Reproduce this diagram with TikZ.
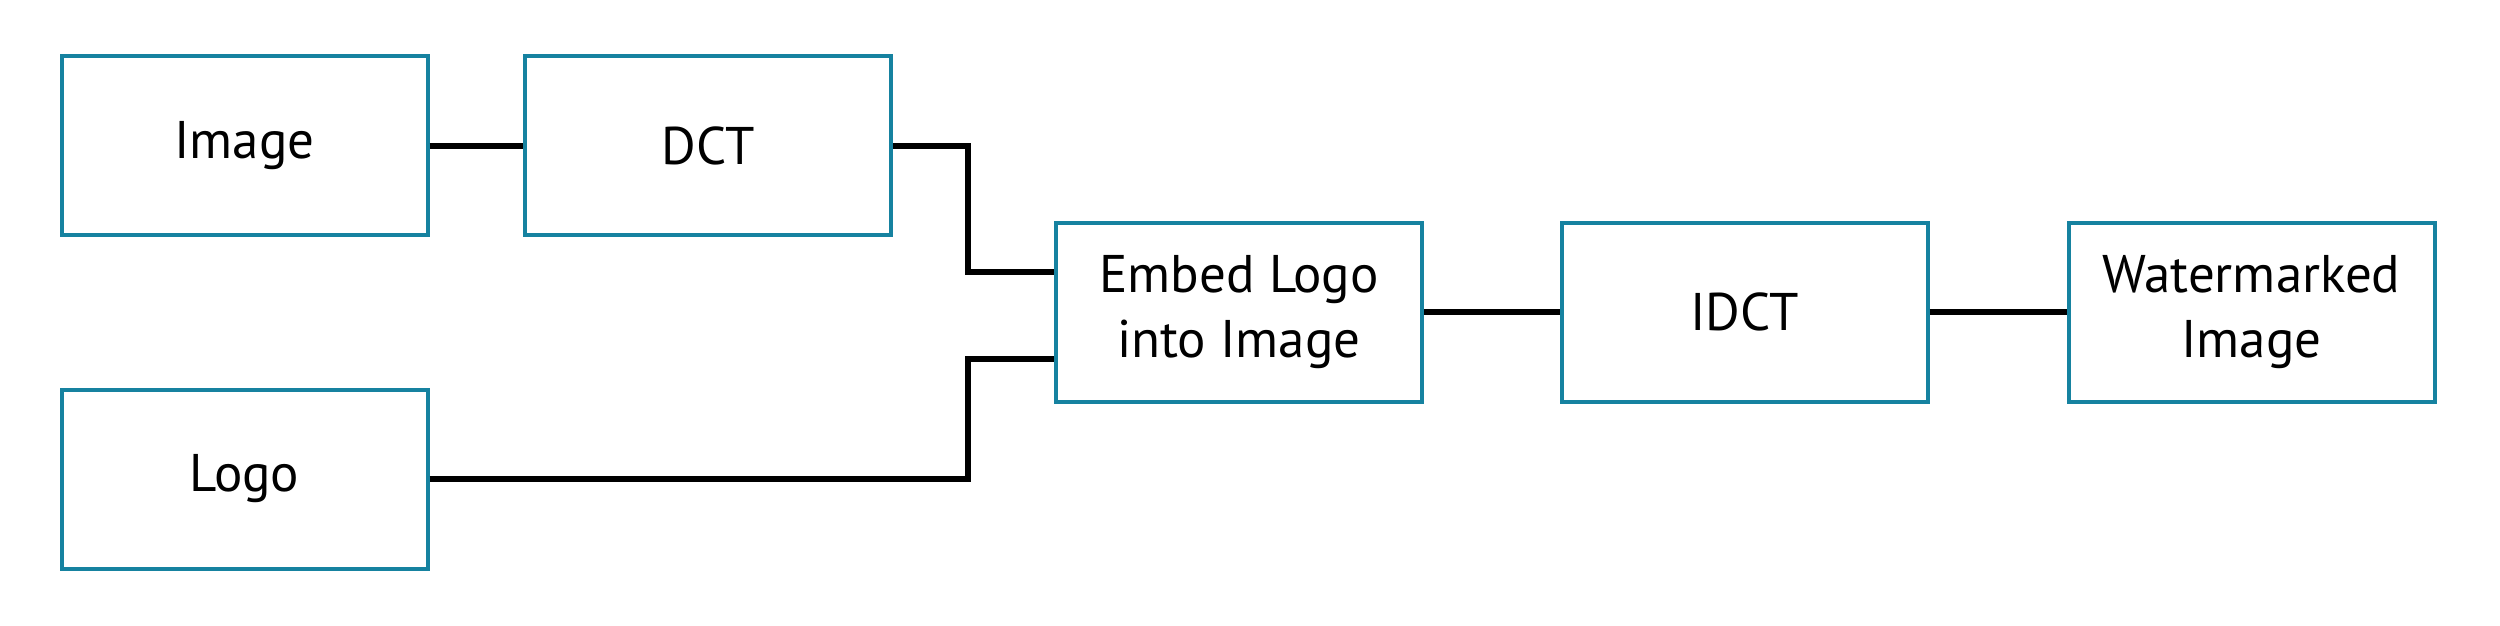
\documentclass[tikz,border=0pt]{standalone}
\usepackage{fontspec}
\setmainfont{PT Sans}
\definecolor{boxteal}{RGB}{22,130,160}
\begin{document}
\begin{tikzpicture}[x=1pt,y=-1pt,
  blk/.style={draw=boxteal, line width=4pt, fill=white, minimum width=366pt, minimum height=179pt,
    align=center, inner sep=0pt, font=\fontsize{53}{65}\selectfont},
  wire/.style={draw=black, line width=6pt}]
\useasboundingbox (0,0) rectangle (2500,625);
\node[blk] (img) at (244.5,145.5) {Image};
\node[blk] (dct) at (708,145.5) {DCT};
\node[blk] (logo) at (244.5,479) {Logo};
\node[blk] (emb) at (1239,312) {Embed Logo\\into Image};
\node[blk] (idct) at (1744.5,312) {IDCT};
\node[blk] (wm) at (2251.5,312) {Watermarked\\Image};
\coordinate (j1) at (968,272);
\coordinate (j2) at (968,359);
\draw[wire] (img.east) -- (dct.west);
\draw[wire] (dct.east) -| (j1) -- (j1 -| emb.west);
\draw[wire] (logo.east) -| (j2) -- (j2 -| emb.west);
\draw[wire] (emb.east) -- (idct.west);
\draw[wire] (idct.east) -- (wm.west);
\end{tikzpicture}
\end{document}
